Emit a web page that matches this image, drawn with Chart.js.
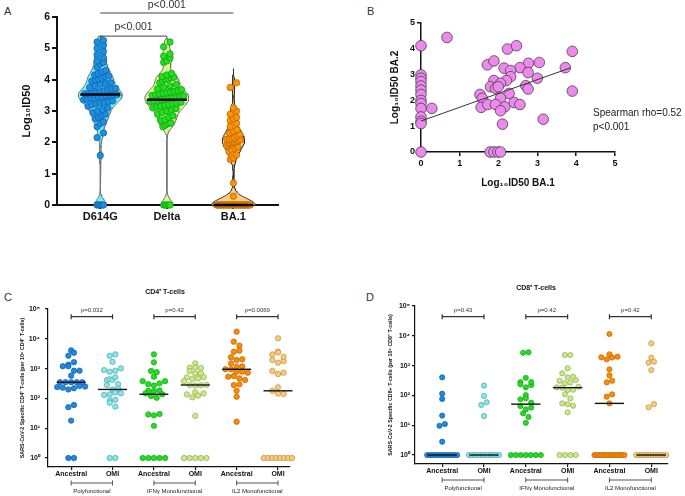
<!DOCTYPE html>
<html>
<head>
<meta charset="utf-8">
<script src="https://cdn.jsdelivr.net/npm/chart.js@4.4.1/dist/chart.umd.min.js"></script>
<style>
body { margin: 0; background: #fff; }
#fig { position: relative; width: 685px; height: 496px; font-family: "Liberation Sans", Arial, sans-serif; }
canvas { position: absolute; }
.tag { position: absolute; font-size: 11px; color: #333; }
</style>
</head>
<body>
<div id="fig">
  <div class="tag" style="left:4px;top:5px">A</div>
  <div class="tag" style="left:367px;top:5px">B</div>
  <div class="tag" style="left:4px;top:291px">C</div>
  <div class="tag" style="left:366px;top:291px">D</div>
  <canvas id="cA" width="300" height="230" style="left:0;top:0"></canvas>
  <canvas id="cB" width="315" height="200" style="left:370px;top:0"></canvas>
  <canvas id="cC" width="340" height="216" style="left:0;top:280px"></canvas>
  <canvas id="cD" width="345" height="216" style="left:340px;top:280px"></canvas>
</div>
<script>
// ---- panel A : neutralising titres (log10 ID50)
const variants = ['D614G', 'Delta', 'BA.1'];
const id50D614G = [0, 0, 0, 0, 0, 1.58, 2.15, 2.3, 2.5, 2.6, 2.65,
  2.75, 2.8, 2.85, 2.9, 2.95, 3.0,
  3.05, 3.1, 3.15, 3.2, 3.22, 3.25, 3.28, 3.3,
  3.32, 3.35, 3.38, 3.4, 3.42, 3.45, 3.46, 3.48, 3.5, 3.5, 3.52, 3.55, 3.55, 3.58, 3.6,
  3.62, 3.65, 3.68, 3.7, 3.72, 3.75, 3.8, 3.85, 3.88, 3.9, 3.95, 4.0,
  4.02, 4.05, 4.1, 4.12, 4.15, 4.2, 4.25, 4.3, 4.4, 4.5,
  4.55, 4.6, 4.7, 4.8, 4.9, 5.0, 5.1, 5.2, 5.25];
const id50Delta = [0, 0, 0, 0, 0, 2.5, 2.55, 2.6, 2.62, 2.7, 2.72, 2.8, 2.85, 2.9, 2.95, 3.0,
  3.05, 3.08, 3.1, 3.12, 3.15, 3.18, 3.2, 3.22, 3.25, 3.28, 3.3,
  3.32, 3.34, 3.36, 3.38, 3.4, 3.42, 3.44, 3.45, 3.48, 3.5, 3.52, 3.55, 3.56, 3.58, 3.6,
  3.62, 3.65, 3.68, 3.7, 3.75, 3.8, 3.85, 3.9, 3.95, 4.0,
  4.02, 4.05, 4.08, 4.1, 4.15, 4.2, 4.55, 4.6, 4.7, 4.75, 4.82, 5.05, 5.2];
const id50BA1 = [0, 0, 0, 0, 0, 0, 0, 0, 0, 0, 0, 0, 0, 0, 0, 0, 0, 0, 0, 0, 0, 0, 0, 0, 0, 0, 0, 0, 0, 0,
  0.28, 0.7, 1.45, 1.5, 1.6, 1.7, 1.75, 1.8, 1.85, 1.9, 1.95, 1.98, 2.0, 2.0, 2.02, 2.05, 2.08, 2.1, 2.1, 2.12,
  2.15, 2.2, 2.25, 2.3, 2.35, 2.4, 2.5, 2.6, 2.7, 2.75, 2.8, 2.9, 3.0, 3.1, 3.75, 3.9];
const id50Medians = [3.53, 3.36, 0];
const id50Pvals = ['p<0.001', 'p<0.001'];
const ticksA = [0, 1, 2, 3, 4, 5, 6];

// ---- panel B : BA.1 vs BA.2
const ba1Titre = [0.67, 0, 0, 0, 0, 0, 0, 0, 0, 0, 0, 0, 0, 0, 0, 0.28, 1.71, 1.88, 2.23, 2.46, 3.9, 3.72, 3.05, 2.77,
  2.55, 2.14, 2.31, 2.31, 2.76, 3.0, 1.88, 2.2, 2.05, 1.79, 1.92, 1.99, 2.27, 2.7, 2.76, 1.52, 1.58, 2.05,
  1.55, 1.72, 1.92, 2.16, 2.05, 2.4, 2.55, 2.1, 3.15, 3.9, 1.78, 1.88, 1.98, 2.05];
const ba2Titre = [4.44, 4.12, 2.99, 2.86, 2.73, 2.56, 2.4, 2.23, 2.0, 1.88, 1.69, 1.36, 1.19, 1.1, 0, 1.69, 3.38, 3.53, 3.99, 4.12, 3.9, 3.27, 3.47, 3.44,
  3.27, 3.25, 3.16, 2.92, 3.08, 2.86, 2.77, 2.77, 2.66, 2.53, 2.47, 2.53, 2.27, 2.57, 2.44, 2.23, 2.08, 2.08,
  1.73, 1.84, 1.84, 1.75, 1.6, 1.92, 1.84, 1.08, 1.27, 2.36, 0, 0, 0, 0];
const fitCoef = [1.2, 0.535];   // intercept, slope
const spearmanText = ['Spearman rho=0.52', 'p<0.001'];
const ticksB = [0, 1, 2, 3, 4, 5];

// ---- panels C / D : T-cell responses
const cellCats = ['Ancestral', 'OMI', 'Ancestral', 'OMI', 'Ancestral', 'OMI'];
const funcGroups = ['Polyfunctional', 'IFNγ Monofunctional', 'IL2 Monofunctional'];
const logTicks = [1, 10, 100, 1000, 10000, 100000];

const cd4PolyAnc = [4100, 2700, 3400, 1350, 1200, 1200, 1650, 850, 850, 580, 350, 350, 350, 350, 350, 240, 230, 200, 220, 260, 250, 51, 60, 18, 1, 1];
const cd4PolyOmi = [2700, 3000, 1700, 890, 790, 850, 1020, 415, 440, 420, 510, 280, 300, 200, 210, 130, 135, 160, 148, 84, 90, 72, 53, 1, 1];
const cd4IfnAnc = [3000, 1620, 830, 760, 535, 380, 300, 270, 320, 380, 180, 175, 185, 148, 120, 105, 138, 29, 27, 30, 12, 1, 1, 1, 1, 1];
const cd4IfnOmi = [1500, 1070, 830, 1100, 1050, 690, 510, 450, 470, 520, 700, 380, 280, 270, 275, 285, 160, 137, 109, 125, 148, 26, 1, 1, 1, 1, 1];
const cd4Il2Anc = [17400, 8000, 5900, 3700, 4000, 2400, 1940, 2050, 1500, 1160, 950, 950, 1180, 790, 790, 730, 535, 565, 470, 415, 280, 297, 180, 114, 16.5];
const cd4Il2Omi = [10400, 3700, 3000, 3500, 1940, 1580, 1780, 2500, 830, 660, 730, 235, 180, 145, 141, 1, 1, 1, 1, 1, 1, 1, 1];
const cd4Medians = [347, 200, 138, 282, 950, 180];
const cd4Pvals = ['p=0.032', 'p=0.42', 'p=0.0069'];

const cd8PolyAnc = [405, 114, 76, 21, 9.6, 11, 2.8, 1, 1, 1, 1, 1, 1, 1, 1, 1, 1, 1, 1];
const cd8PolyOmi = [213, 96, 48, 59, 20.4, 1, 1, 1, 1, 1, 1, 1, 1, 1, 1, 1, 1];
const cd8IfnAnc = [2700, 2800, 280, 235, 390, 187, 223, 282, 103, 74, 80, 57, 44, 34, 39, 25, 19, 12, 1, 1, 1, 1, 1, 1, 1];
const cd8IfnOmi = [2270, 2270, 810, 550, 405, 310, 255, 270, 330, 425, 187, 180, 152, 155, 196, 109, 80, 54, 51, 45, 27, 1, 1, 1, 1];
const cd8Il2Anc = [11500, 2400, 1900, 1620, 1860, 2000, 750, 470, 275, 310, 91, 109, 54, 1, 1, 1, 1, 1, 1, 1, 1, 1, 1, 1, 1, 1, 1];
const cd8Il2Omi = [5600, 1850, 1250, 1350, 710, 40, 51, 1, 1, 1, 1, 1, 1, 1, 1, 1, 1, 1, 1];
const cd8Medians = [1, 1, 51, 182, 54, 1];
const cd8Pvals = ['p=0.43', 'p=0.42', 'p=0.42'];

// ---------------------------------------------------------------
Chart.defaults.font.family = '"Liberation Sans", Arial, sans-serif';
Chart.defaults.color = '#111';
const FONT = '"Liberation Sans", Arial, sans-serif';

// dot-plot layout: values grouped in horizontal rows, each row spread
// symmetrically and squeezed to the allowed half width at that height
function swarm(vals, pxPerX, toPx, diam, capFn, rowH) {
  const idx = vals.map((v, i) => i).sort((a, b) => vals[a] - vals[b] || a - b);
  const rows = [];
  let cur = null;
  idx.forEach(i => {
    const y = toPx(vals[i]);
    if (!cur || y - cur.y0 > rowH) { cur = { y0: y, m: [] }; rows.push(cur); }
    cur.m.push(i);
  });
  const off = vals.map(() => 0);
  rows.forEach(r => {
    const n = r.m.length;
    const mid = vals[r.m[Math.floor(n / 2)]];
    const cap = Math.max(diam / 2, capFn(mid));
    const sp = n > 1 ? Math.min(diam, 2 * cap / (n - 1)) : 0;
    r.m.slice().sort((a, b) => a - b).forEach((i, j) => { off[i] = (j - (n - 1) / 2) * sp; });
  });
  return off.map(o => o / pxPerX);
}

// gaussian kernel density, scaled to 1 at its peak
function density(vals, bw, lo, hi) {
  const raw = y => vals.reduce((s, v) => s + Math.exp(-0.5 * ((y - v) / bw) ** 2), 0);
  let mx = 0;
  for (let k = 0; k <= 160; k++) mx = Math.max(mx, raw(lo + (hi - lo) * k / 160));
  return y => raw(y) / mx;
}

function violin(dens, centre, halfW, lo, hi) {
  const ys = [];
  for (let k = 0; k <= 160; k++) ys.push(lo + (hi - lo) * k / 160);
  const left = ys.map(y => ({ x: centre - halfW * dens(y), y }));
  const right = ys.map(y => ({ x: centre + halfW * dens(y), y })).reverse();
  return left.concat(right);
}

// texts and brackets, placed through the chart scales
function overlay(items) {
  return {
    id: 'overlay',
    afterDraw(chart) {
      const ctx = chart.ctx, sx = chart.scales.x, sy = chart.scales.y;
      const X = it => it.xp !== undefined ? it.xp : sx.getPixelForValue(it.x);
      const Y = it => it.yp !== undefined ? it.yp : sy.getPixelForValue(it.y);
      ctx.save();
      items.forEach(it => {
        if (it.text !== undefined) {
          ctx.font = it.font;
          ctx.fillStyle = it.color || '#222';
          ctx.textAlign = it.align || 'center';
          ctx.textBaseline = 'middle';
          ctx.fillText(it.text, X(it) + (it.dx || 0), Y(it) + (it.dy || 0));
        } else {
          const x1 = sx.getPixelForValue(it.x1), x2 = sx.getPixelForValue(it.x2), y = Y(it);
          ctx.strokeStyle = it.color || '#333';
          ctx.lineWidth = it.width || 1;
          ctx.beginPath();
          ctx.moveTo(x1, y); ctx.lineTo(x2, y);
          if (it.tick) {
            [x1, x2].forEach(x => { ctx.moveTo(x, y - it.tick[0]); ctx.lineTo(x, y + it.tick[1]); });
          }
          ctx.stroke();
        }
      });
      ctx.restore();
    }
  };
}

function axisStyle(width, tickLen) {
  return {
    grid: { drawOnChartArea: false, tickLength: tickLen, color: '#111', lineWidth: width },
    border: { color: '#111', width: width }
  };
}

// ================= panel A
const setsA = [id50D614G, id50Delta, id50BA1];
const ptFillA = ['#1a8fe3', '#22e01f', '#ff9300'];
const ptLineA = ['#0f5fa0', '#129612', '#b05f00'];
const vioFillA = ['#72f2f8', '#daf98c', '#ffcf7f'];
const vioLineA = ['#777', '#777', '#333'];
const vioBw = [0.17, 0.17, 0.2];
const vioExt = [0.14, 0.1, 0.45];
const VHALF = 0.33;
const dsA = [];
setsA.forEach((vals, i) => {
  const c = i + 1;
  const lo = Math.min(...vals), hi = Math.max(...vals) + vioExt[i];
  const dens = density(vals, vioBw[i], lo, hi);
  dsA.push({ data: violin(dens, c, VHALF, lo, hi), showLine: true, fill: 'shape', tension: 0,
    backgroundColor: vioFillA[i], borderColor: vioLineA[i], borderWidth: 1, pointRadius: 0, order: 3, clip: false });
  const off = swarm(vals, 67, v => v * 31.33, 6.4, v => VHALF * 67 * dens(v) * 0.9 - 3, 6);
  dsA.push({ data: vals.map((v, j) => ({ x: c + off[j], y: v })), pointRadius: 3.2,
    backgroundColor: ptFillA[i], borderColor: ptLineA[i], borderWidth: 0.7, order: 2, clip: false });
  dsA.push({ data: [{ x: c - 0.3, y: id50Medians[i] }, { x: c + 0.3, y: id50Medians[i] }], showLine: true,
    borderColor: '#000', borderWidth: 2.5, pointRadius: 0, order: 1, clip: false });
});
const itemsA = [
  { x1: 1, x2: 2, y: 5.39, tick: [0, 3], color: '#444' },
  { text: id50Pvals[0], x: 1.5, y: 5.39, dy: -9, font: '10.5px ' + FONT, color: '#333' },
  { x1: 1, x2: 3, yp: 13, color: '#444' },
  { text: id50Pvals[1], x: 2, yp: 13, dy: -8, font: '10.5px ' + FONT, color: '#333' }
];
new Chart(document.getElementById('cA'), {
  type: 'scatter',
  data: { datasets: dsA },
  options: {
    responsive: false, animation: false,
    layout: { padding: { left: 20, top: 17, right: 22, bottom: 0 } },
    plugins: { legend: { display: false }, tooltip: { enabled: false } },
    scales: {
      x: Object.assign({ type: 'linear', min: 0.35, max: 3.67,
        afterBuildTicks: s => { s.ticks = variants.map((v, i) => ({ value: i + 1 })); },
        afterFit: s => { s.height = 25; },
        ticks: { callback: v => variants[v - 1] || '', font: { size: 11, weight: 'bold' }, padding: 1, autoSkip: false, maxRotation: 0 }
      }, axisStyle(2, 4)),
      y: Object.assign({ min: 0, max: 6,
        afterBuildTicks: s => { s.ticks = ticksA.map(v => ({ value: v })); },
        afterFit: s => { s.width = 37; },
        ticks: { font: { size: 10.5, weight: 'bold' }, padding: 2 },
        title: { display: true, text: 'Log₁₀ID50', font: { size: 11, weight: 'bold' }, padding: 0 }
      }, axisStyle(2, 5))
    }
  },
  plugins: [overlay(itemsA)]
});

// ================= panel B
const itemsB = [
  { text: spearmanText[0], xp: 223, yp: 113, align: 'left', font: '10px ' + FONT, color: '#222' },
  { text: spearmanText[1], xp: 223, yp: 127, align: 'left', font: '10px ' + FONT, color: '#222' }
];
const fitEnd = Math.max(...ba1Titre) - 0.05;
new Chart(document.getElementById('cB'), {
  type: 'scatter',
  data: {
    datasets: [
      { data: [{ x: 0, y: fitCoef[0] }, { x: fitEnd, y: fitCoef[0] + fitCoef[1] * fitEnd }], showLine: true,
        borderColor: '#333', borderWidth: 1, pointRadius: 0, order: 0 },
      { data: ba1Titre.map((x, i) => ({ x, y: ba2Titre[i] })), pointRadius: 5.3,
        backgroundColor: '#ee88ee', borderColor: '#444', borderWidth: 0.8, order: 1, clip: false }
    ]
  },
  options: {
    responsive: false, animation: false,
    layout: { padding: { left: 19, top: 23, right: 70, bottom: 11 } },
    plugins: { legend: { display: false }, tooltip: { enabled: false } },
    scales: {
      x: Object.assign({ type: 'linear', min: 0, max: 5,
        afterBuildTicks: s => { s.ticks = ticksB.map(v => ({ value: v })); },
        afterFit: s => { s.height = 37; },
        ticks: { font: { size: 9, weight: 'bold' }, padding: 2 },
        title: { display: true, text: 'Log₁₀ID50 BA.1', font: { size: 10, weight: 'bold' }, padding: 0 }
      }, axisStyle(1.5, 4)),
      y: Object.assign({ min: 0, max: 5,
        afterBuildTicks: s => { s.ticks = ticksB.map(v => ({ value: v })); },
        afterFit: s => { s.width = 32; },
        ticks: { font: { size: 9, weight: 'bold' }, padding: 2 },
        title: { display: true, text: 'Log₁₀ID50 BA.2', font: { size: 10, weight: 'bold' }, padding: 0 }
      }, axisStyle(1.5, 4))
    }
  },
  plugins: [overlay(itemsB)]
});

// ================= panels C and D
const tFill = ['#1e88e5', '#7eeaf0', '#22dd22', '#cbeb7f', '#ff8c00', '#ffc875'];
const tLine = ['#0d5ba8', '#5a9da0', '#17a317', '#8fa860', '#b86200', '#b8904f'];
const sup = ['⁰', '¹', '²', '³', '⁴', '⁵'];

function tcellChart(id, sets, medians, pvals, geo) {
  const ds = [];
  sets.forEach((vals, i) => {
    const c = i + 1;
    const off = swarm(vals, geo.pxX, v => Math.log10(v) * 29.8, geo.diam, () => geo.cap, 4.5);
    ds.push({ data: vals.map((v, j) => ({ x: c + off[j], y: v })), pointRadius: geo.r,
      backgroundColor: tFill[i], borderColor: tLine[i], borderWidth: 0.7, order: 2, clip: false });
    ds.push({ data: [{ x: c - 0.35, y: medians[i] }, { x: c + 0.35, y: medians[i] }], showLine: true,
      borderColor: '#111', borderWidth: 1.4, pointRadius: 0, order: 1, clip: false });
  });
  const items = [{ text: geo.title, xp: geo.titleX, yp: geo.titleY, font: 'bold 7px ' + FONT, color: '#111' }];
  pvals.forEach((p, g) => {
    items.push({ x1: 2 * g + 1, x2: 2 * g + 2, yp: 36.7, tick: [2.5, 2.5], color: '#333', width: 1.2 });
    items.push({ text: p, x: 2 * g + 1.5, yp: 36.7, dy: -6, font: '6px ' + FONT, color: '#333' });
  });
  funcGroups.forEach((f, g) => {
    items.push({ x1: 2 * g + 1, x2: 2 * g + 2, yp: geo.grpY, tick: [2.5, 2.5], color: '#555', width: 1 });
    items.push({ text: f, x: 2 * g + 1.5, yp: geo.grpY + 8, font: '6px ' + FONT, color: '#222' });
  });
  new Chart(document.getElementById(id), {
    type: 'scatter',
    data: { datasets: ds },
    options: {
      responsive: false, animation: false,
      layout: { padding: { left: geo.padL, top: geo.top, right: geo.padR, bottom: 0 } },
      plugins: { legend: { display: false }, tooltip: { enabled: false } },
      scales: {
        x: Object.assign({ type: 'linear', min: geo.xmin, max: geo.xmax,
          afterBuildTicks: s => { s.ticks = cellCats.map((v, i) => ({ value: i + 1 })); },
          afterFit: s => { s.height = geo.xh; },
          ticks: { callback: v => cellCats[v - 1] || '', font: { size: 7, weight: 'bold' }, padding: 0, autoSkip: false, maxRotation: 0 }
        }, axisStyle(1.2, 3)),
        y: Object.assign({ type: 'logarithmic', min: 0.5, max: 100000,
          afterBuildTicks: s => { s.ticks = logTicks.map(v => ({ value: v })); },
          afterFit: s => { s.width = geo.yw; },
          ticks: { callback: v => '10' + sup[Math.round(Math.log10(v))], font: { size: 7, weight: 'bold' }, padding: geo.tickPad },
          title: { display: true, text: geo.ytitle, font: { size: 5.3, weight: 'bold' }, padding: 0 }
        }, axisStyle(1.2, 3))
      }
    },
    plugins: [overlay(items)]
  });
}

tcellChart('cC', [cd4PolyAnc, cd4PolyOmi, cd4IfnAnc, cd4IfnOmi, cd4Il2Anc, cd4Il2Omi], cd4Medians, cd4Pvals, {
  pxX: 41.4, diam: 5.6, cap: 14, r: 2.7, padL: 19, yw: 29, padR: 50, top: 29, xh: 29, xmin: 0.44, xmax: 6.29,
  tickPad: 5, grpY: 203, title: 'CD4⁺ T-cells', titleX: 165, titleY: 12,
  ytitle: 'SARS-CoV-2 Specific CD4⁺ T-cells (per 10⁶ CD4⁺ T-cells)'
});
tcellChart('cD', [cd8PolyAnc, cd8PolyOmi, cd8IfnAnc, cd8IfnOmi, cd8Il2Anc, cd8Il2Omi], cd8Medians, cd8Pvals, {
  pxX: 41.8, diam: 5.4, cap: 15, r: 2.6, padL: 47, yw: 28, padR: 17, top: 26, xh: 32, xmin: 0.35, xmax: 6.4,
  tickPad: 2, grpY: 200, title: 'CD8⁺ T-cells', titleX: 196, titleY: 8,
  ytitle: 'SARS-CoV-2 Specific CD8+ T-cells (per 10⁶ CD8⁺ T-cells)'
});
</script>
</body>
</html>
